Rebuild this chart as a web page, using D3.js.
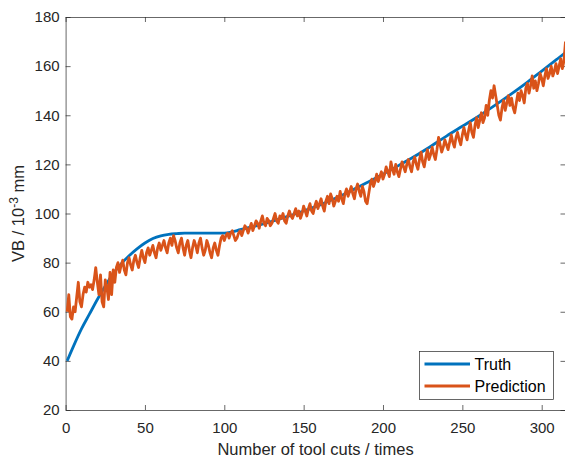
<!DOCTYPE html>
<html>
<head>
  <meta charset="UTF-8">
  <title>Tool wear prediction</title>
  <style>
    body { margin: 0; background: #fff; }
    svg { display: block; font-family: "Liberation Sans", Arial, sans-serif; }
    .axis text { font-size: 15px; fill: #262626; }
    .axis path, .axis line { stroke: #262626; stroke-width: 0.7; }
  </style>
</head>
<body>
<svg id="chart"></svg>
<script src="https://d3js.org/d3.v7.min.js"></script>
<script>

// truth curve, read at some cuts
var truthCuts = [1, 5, 10, 15, 20, 25, 30, 35, 40, 45, 50, 55, 60, 65, 70, 75, 80, 90, 100, 105,
  110, 120, 130, 140, 150, 160, 170, 180, 190, 200, 210, 220, 230, 240, 250, 260, 270, 280, 290, 300, 310, 315]
var truthVB = [40, 46, 53, 59, 65, 70.5, 75.5, 79.5, 82.8, 85.6, 88, 89.8, 90.9, 91.5, 91.8, 92, 92, 92, 92, 92.5,
  93.4, 95, 96.8, 98.8, 101, 103.4, 106.2, 109.3, 112.6, 116, 119.6, 123.3, 127.3, 131.5, 135.5, 139.5, 143.8, 148.3, 153, 158, 163, 165.5]

// prediction, one value per cut (cut 1 .. 315)
var predVB = [
  60, 67, 58, 57, 62, 60, 66, 72, 64, 62,
  67, 70, 68, 72, 70, 71, 69, 73, 78, 72,
  67, 75, 64, 62, 73, 70, 65, 76, 67, 77,
  72, 78, 80, 76, 79, 81, 77, 75, 80, 82,
  79, 77, 81, 83, 80, 78, 82, 85, 82, 80,
  84, 86, 83, 85, 87, 84, 82, 86, 88, 85,
  87, 89, 86, 84, 88, 90, 87, 91, 89, 86,
  84, 88, 90, 86, 83, 87, 89, 85, 82, 86,
  89, 87, 84, 88, 90, 86, 83, 85, 89, 87,
  84, 82, 86, 88, 85, 83, 87, 90, 91, 89,
  91, 92, 90, 92, 93, 91, 89, 90, 92, 93,
  91, 93, 95, 94, 92, 94, 96, 93, 95, 97,
  96, 94, 97, 99, 96, 95, 98, 97, 95, 96,
  98, 100, 97, 96, 99, 98, 100, 97, 96, 99,
  101, 99, 98, 100, 102, 99, 101, 98, 100, 103,
  101, 99, 102, 104, 101, 100, 103, 105, 102, 104,
  106, 103, 101, 105, 107, 104, 108, 106, 103, 105,
  107, 105, 109, 106, 104, 108, 110, 107, 109, 111,
  108, 106, 110, 112, 109, 107, 111, 109, 105, 104,
  108, 112, 114, 111, 113, 116, 113, 115, 117, 114,
  116, 119, 117, 115, 121, 118, 116, 120, 117, 115,
  118, 121, 119, 117, 120, 122, 119, 117, 121, 123,
  120, 118, 122, 125, 121, 119, 123, 126, 122, 124,
  127, 124, 122, 126, 131, 128, 125, 127, 130, 128,
  126, 129, 132, 129, 127, 131, 133, 130, 128, 132,
  135, 132, 130, 134, 137, 133, 131, 136, 139, 135,
  138, 141, 137, 139, 144, 140, 146, 150, 147, 152,
  148, 144, 140, 138, 143, 146, 142, 145, 148, 144,
  147, 143, 141, 145, 149, 146, 150, 148, 145, 151,
  153, 149, 152, 156, 151, 154, 150, 153, 157, 155,
  152, 156, 159, 155, 157, 160, 156, 158, 161, 157,
  160, 163, 159, 162, 170
]

var xTicks = [0, 50, 100, 150, 200, 250, 300]
var yTicks = [20, 40, 60, 80, 100, 120, 140, 160, 180]
var seriesNames = ["Truth", "Prediction"]
var seriesColors = ["#0072BD", "#D95319"]

var width = 565, height = 458
var mLeft = 65.6, mRight = 565.5, mTop = 17, mBottom = 410

var svg = d3.select("#chart").attr("width", width).attr("height", height)

var x = d3.scaleLinear().domain([0, 315]).range([mLeft, mRight])
var y = d3.scaleLinear().domain([20, 180]).range([mBottom, mTop])

// axes, ticks pointing inwards like matlab
svg.append("g").attr("class", "axis")
  .attr("transform", "translate(0," + mBottom + ")")
  .call(d3.axisBottom(x).tickValues(xTicks).tickSizeInner(-5).tickSizeOuter(0).tickPadding(12))
svg.append("g").attr("class", "axis")
  .attr("transform", "translate(0," + mTop + ")")
  .call(d3.axisTop(x).tickValues(xTicks).tickFormat("").tickSizeInner(-5).tickSizeOuter(0))
svg.append("g").attr("class", "axis")
  .attr("transform", "translate(" + mLeft + ",0)")
  .call(d3.axisLeft(y).tickValues(yTicks).tickSizeInner(-5).tickSizeOuter(0).tickPadding(6))
svg.append("g").attr("class", "axis")
  .attr("transform", "translate(" + mRight + ",0)")
  .call(d3.axisRight(y).tickValues(yTicks).tickFormat("").tickSizeInner(-5).tickSizeOuter(0))

// lines
var truthData = truthCuts.map(function (c, i) { return [c, truthVB[i]] })
var predData = predVB.map(function (v, i) { return [i + 1, v] })

var line = d3.line().x(d => x(d[0])).y(d => y(d[1]))

svg.append("path")
  .datum(truthData)
  .attr("fill", "none")
  .attr("stroke", seriesColors[0])
  .attr("stroke-width", 2.8)
  .attr("d", line.curve(d3.curveMonotoneX))

svg.append("path")
  .datum(predData)
  .attr("fill", "none")
  .attr("stroke", seriesColors[1])
  .attr("stroke-width", 2.8)
  .attr("stroke-linejoin", "round")
  .attr("d", line.curve(d3.curveLinear))

// axis labels
svg.append("text")
  .attr("x", (mLeft + mRight) / 2)
  .attr("y", 455)
  .attr("text-anchor", "middle")
  .style("font-size", "16.5px")
  .style("fill", "#262626")
  .text("Number of tool cuts / times")

var ylab = svg.append("text")
  .attr("transform", "translate(24," + ((mTop + mBottom) / 2) + ") rotate(-90)")
  .attr("text-anchor", "middle")
  .style("font-size", "16.5px")
  .style("fill", "#262626")
ylab.append("tspan").text("VB / 10")
ylab.append("tspan").attr("dy", -6).style("font-size", "12px").text("-3")
ylab.append("tspan").attr("dy", 6).text(" mm")

// legend
var legend = svg.append("g").attr("transform", "translate(419.5,351.5)")
legend.append("rect")
  .attr("width", 134)
  .attr("height", 48)
  .attr("fill", "#fff")
  .attr("stroke", "#262626")
  .attr("stroke-width", 0.7)

legend.selectAll("line.key")
  .data(seriesNames)
  .enter()
  .append("line")
    .attr("class", "key")
    .attr("x1", 5)
    .attr("x2", 50.5)
    .attr("y1", (d, i) => 12.5 + i * 22)
    .attr("y2", (d, i) => 12.5 + i * 22)
    .attr("stroke", (d, i) => seriesColors[i])
    .attr("stroke-width", 2.8)

legend.selectAll("text")
  .data(seriesNames)
  .enter()
  .append("text")
    .attr("x", 55)
    .attr("y", (d, i) => 12.5 + i * 22)
    .attr("dy", "0.35em")
    .style("font-size", "16px")
    .style("fill", "#000")
    .text(d => d)

</script>
</body>
</html>
